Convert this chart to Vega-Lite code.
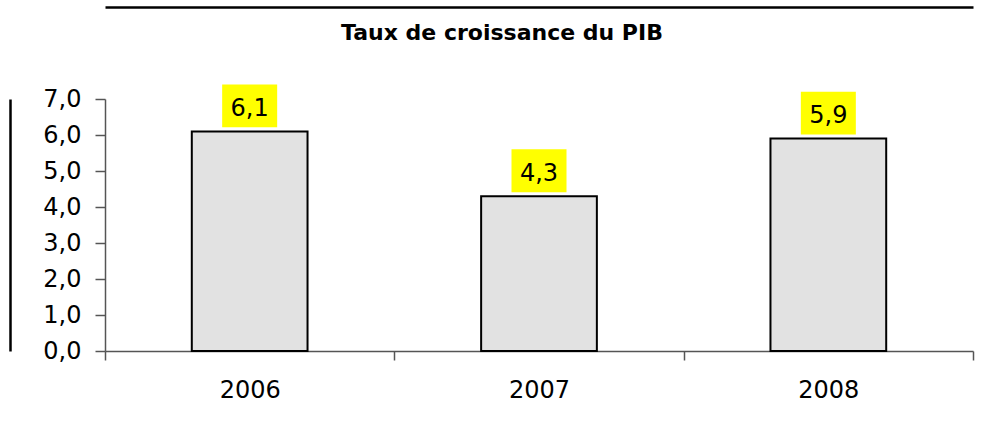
{
  "$schema": "https://vega.github.io/schema/vega-lite/v6.json",
  "autosize": {"type": "none"},
  "width": 868,
  "height": 252,
  "padding": {"left": 105, "top": 99, "right": 9, "bottom": 70},
  "background": "white",
  "title": {
    "text": "Taux de croissance du PIB",
    "font": "DejaVu Sans",
    "fontSize": 22,
    "fontWeight": "bold",
    "color": "black",
    "anchor": "middle",
    "frame": "group",
    "baseline": "alphabetic",
    "dx": -37,
    "offset": -55
  },
  "config": {
    "view": {"stroke": null},
    "font": "DejaVu Sans"
  },
  "data": {
    "values": [
      {"year": "2006", "value": 6.1, "label": "6,1"},
      {"year": "2007", "value": 4.3, "label": "4,3"},
      {"year": "2008", "value": 5.9, "label": "5,9"}
    ]
  },
  "resolve": {"axis": {"x": "independent", "y": "independent"}},
  "layer": [
    {
      "mark": {"type": "bar", "fill": "#e2e2e2", "stroke": "black", "strokeWidth": 2, "width": {"band": 0.4}},
      "encoding": {
        "x": {
          "field": "year", "type": "nominal", "sort": null,
          "scale": {"paddingInner": 0, "paddingOuter": 0},
          "axis": {
            "title": null, "orient": "bottom", "labelAngle": 0,
            "labelFont": "DejaVu Sans", "labelFontSize": 24, "labelColor": "black",
            "labelPadding": 18, "tickBand": "extent", "tickSize": 9,
            "tickColor": "#555555", "domainColor": "#555555", "domainWidth": 1.5, "tickWidth": 1.5
          }
        },
        "y": {
          "field": "value", "type": "quantitative",
          "scale": {"domain": [0, 7], "nice": false},
          "axis": {
            "title": null, "orient": "left", "values": [0, 1, 2, 3, 4, 5, 6, 7],
            "labelExpr": "replace(format(datum.value, '.1f'), '.', ',')",
            "labelFont": "DejaVu Sans", "labelFontSize": 24, "labelColor": "black",
            "labelPadding": 14, "tickSize": 10, "grid": false,
            "tickColor": "#555555", "domainColor": "#555555", "domainWidth": 1.5, "tickWidth": 1.5
          }
        }
      }
    },
    {
      "mark": {
        "type": "point", "filled": true, "opacity": 1, "color": "#ffff00",
        "shape": "M-1,-0.78H1V0.78H-1Z", "size": 3025, "strokeWidth": 0, "yOffset": -25.5
      },
      "encoding": {
        "x": {
          "field": "year", "type": "nominal", "sort": null,
          "axis": {
            "title": null, "orient": "top", "offset": 92, "labels": false, "ticks": false,
            "domain": true, "domainColor": "black", "domainWidth": 2.5
          }
        },
        "y": {
          "field": "value", "type": "quantitative",
          "axis": {
            "title": null, "orient": "left", "offset": 95, "labels": false, "ticks": false,
            "grid": false, "domain": true, "domainColor": "black", "domainWidth": 2.5
          }
        }
      }
    },
    {
      "mark": {"type": "text", "font": "DejaVu Sans", "fontSize": 24, "color": "black", "baseline": "alphabetic", "align": "center", "dy": -15.5},
      "encoding": {
        "x": {"field": "year", "type": "nominal", "sort": null, "axis": null},
        "y": {"field": "value", "type": "quantitative", "axis": null},
        "text": {"field": "label", "type": "nominal"}
      }
    }
  ]
}
